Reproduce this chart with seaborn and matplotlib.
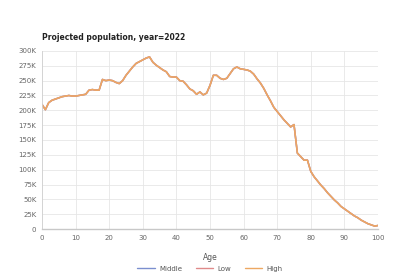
import numpy as np
import pandas as pd
import matplotlib
matplotlib.use("Agg")
import matplotlib.pyplot as plt
import seaborn as sns
from matplotlib.ticker import FuncFormatter

ages = list(range(0, 101))
population = [
    210, 201, 213, 217, 219, 221, 223, 224, 225, 224,
    224, 225, 226, 227, 234, 235, 234, 234, 252, 250,
    251, 250, 247, 245, 250, 259, 266, 273, 279, 282,
    285, 288, 290, 281, 276, 272, 268, 265, 257, 256,
    256, 250, 249, 243, 236, 233, 227, 231, 226, 229,
    242, 259, 259, 254, 252, 254, 262, 270, 273, 270,
    269, 268, 266, 261, 253, 246, 237, 226, 216, 205,
    198, 191, 184, 178, 172, 176, 128, 122, 116, 116,
    97, 88, 81, 74, 68, 61, 55, 49, 44, 38,
    34, 30, 26, 22, 19, 15, 12, 9, 7, 5, 6,
]
middle = [v * 1000 for v in population]
low = [v * 1000 for v in population]
high = [v * 1000 for v in population]
series_names = ["Middle", "Low", "High"]
series_colors = ["#7b8fcf", "#e08a8a", "#eda862"]
x_ticks = [0, 10, 20, 30, 40, 50, 60, 70, 80, 90, 100]
y_ticks = [0, 25000, 50000, 75000, 100000, 125000, 150000, 175000,
           200000, 225000, 250000, 275000, 300000]

df = pd.concat([
    pd.DataFrame({"Age": ages, "Population": vals, "Scenario": name})
    for name, vals in zip(series_names, [middle, low, high])
], ignore_index=True)

sns.set_theme(style="white")
plt.rcParams["font.family"] = ["DejaVu Sans"]

fig = plt.figure(figsize=(4.2, 2.8), dpi=100)
ax = fig.add_axes([0.1, 0.182, 0.8, 0.636])

sns.lineplot(data=df, x="Age", y="Population", hue="Scenario",
             palette=dict(zip(series_names, series_colors)),
             linewidth=1.1, ax=ax, legend=False)

ax.set_xlim(0, 100)
ax.set_ylim(0, 300000)
ax.set_xticks(x_ticks)
ax.set_yticks(y_ticks)
ax.yaxis.set_major_formatter(FuncFormatter(lambda v, p: "0" if v == 0 else f"{int(v/1000)}K"))
ax.grid(True, color="#e6e6e6", linewidth=0.6)
ax.set_axisbelow(True)
for s in ["top", "right"]:
    ax.spines[s].set_visible(False)
ax.spines["left"].set_color("#d0d0d0")
ax.spines["bottom"].set_color("#c8c8c8")
ax.spines["left"].set_linewidth(0.6)
ax.spines["bottom"].set_linewidth(1.0)
ax.tick_params(axis="both", labelsize=5, colors="#666666", length=0, pad=4)
ax.set_xlabel("Age", fontsize=5.5, color="#555555", labelpad=9)
ax.set_ylabel("")

fig.text(0.1, 0.865, "Projected population, year=2022", fontsize=5.5,
         fontweight="bold", color="#222222", ha="left", va="center")

handles = [plt.Line2D([0], [0], color=c, lw=1.0) for c in series_colors]
fig.legend(handles, series_names, loc="center", bbox_to_anchor=(0.5, 0.04),
           ncol=3, frameon=False, fontsize=5, handlelength=2.5,
           columnspacing=2.0, handletextpad=0.6, labelcolor="#555555")

fig.savefig("out.png", dpi=100)
